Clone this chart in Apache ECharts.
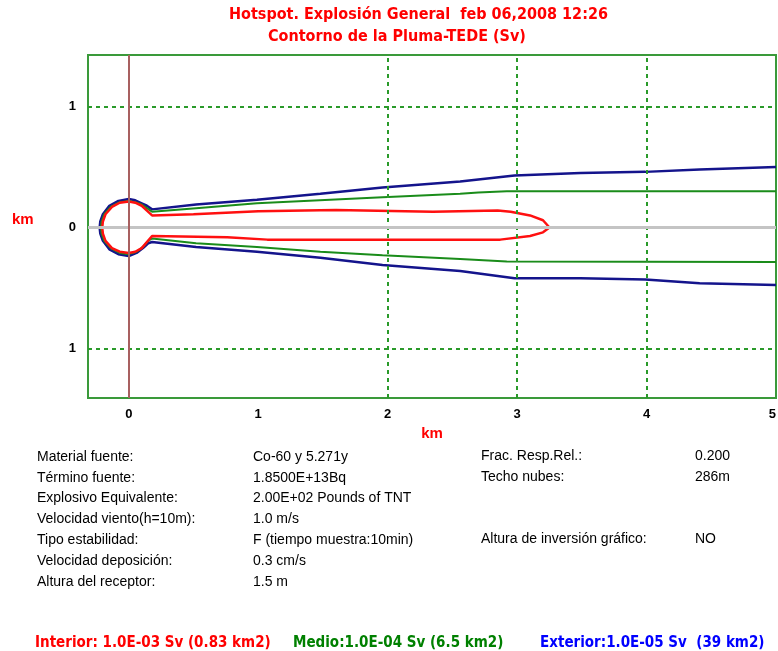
<!DOCTYPE html>
<html>
<head>
<meta charset="utf-8">
<script src="https://cdn.jsdelivr.net/npm/echarts@6/dist/echarts.min.js"></script>
<style>
  html, body { margin: 0; padding: 0; background: #fff; }
  #chart { width: 778px; height: 651px; }
</style>
</head>
<body>
<div id="chart"></div>
<script>
// contornos (km)
const interiorContour = [
    [3.25, 0.0], [3.2, 0.06], [3.1, 0.1], [2.95, 0.13], [2.85, 0.14], [2.35, 0.13], [1.6, 0.145],
    [1.0, 0.135], [0.5, 0.11], [0.18, 0.1], [0.14, 0.14], [0.1, 0.18], [0.05, 0.205],
    [0.0, 0.215], [-0.07, 0.205], [-0.13, 0.17], [-0.18, 0.11], [-0.2, 0.05], [-0.205, 0.0],
    [-0.2, -0.05], [-0.18, -0.11], [-0.13, -0.17], [-0.07, -0.2], [0.0, -0.21], [0.05, -0.2],
    [0.1, -0.17], [0.14, -0.12], [0.18, -0.07], [0.76, -0.08], [1.07, -0.1], [2.0, -0.1],
    [2.87, -0.1], [3.1, -0.07], [3.2, -0.04], [3.25, 0.0]
];
const medioContour = [
    [5.0, 0.3], [2.92, 0.3], [2.7, 0.29], [2.56, 0.28], [1.96, 0.25], [0.99, 0.2], [0.52, 0.16],
    [0.18, 0.13], [0.14, 0.16], [0.1, 0.19], [0.05, 0.21], [0.0, 0.22], [-0.07, 0.21],
    [-0.14, 0.17], [-0.19, 0.11], [-0.21, 0.05], [-0.215, 0.0], [-0.21, -0.05], [-0.19, -0.11],
    [-0.14, -0.17], [-0.07, -0.21], [0.0, -0.22], [0.06, -0.2], [0.11, -0.16], [0.15, -0.11],
    [0.18, -0.09], [0.52, -0.13], [0.99, -0.16], [1.48, -0.2], [1.96, -0.23], [2.56, -0.26],
    [2.92, -0.28], [5.0, -0.285]
];
const exteriorContour = [
    [5.0, 0.5], [4.41, 0.48], [3.99, 0.46], [3.49, 0.45], [2.98, 0.43], [2.56, 0.38],
    [1.96, 0.33], [1.48, 0.28], [0.99, 0.23], [0.52, 0.19], [0.18, 0.15], [0.14, 0.18],
    [0.1, 0.2], [0.05, 0.225], [0.0, 0.235], [-0.08, 0.22], [-0.15, 0.18], [-0.2, 0.11],
    [-0.22, 0.05], [-0.225, 0.0], [-0.22, -0.05], [-0.2, -0.11], [-0.15, -0.18], [-0.08, -0.22],
    [0.0, -0.235], [0.06, -0.21], [0.11, -0.17], [0.15, -0.13], [0.18, -0.12], [0.52, -0.16],
    [0.99, -0.2], [1.48, -0.25], [1.96, -0.31], [2.56, -0.36], [2.98, -0.42], [3.49, -0.42],
    [3.99, -0.43], [4.41, -0.46], [5.0, -0.475]
];

const xTickValues = [0, 1, 2, 3, 4, 5];
const yTickValues = [-1, 0, 1];
const gridLinesX = [2, 3, 4];
const gridLinesY = [1, -1];

const infoLabels = ['Material fuente:', 'Término fuente:', 'Explosivo Equivalente:',
    'Velocidad viento(h=10m):', 'Tipo estabilidad:', 'Velocidad deposición:', 'Altura del receptor:'];
const infoValues = ['Co-60 y 5.271y', '1.8500E+13Bq', '2.00E+02 Pounds of TNT', '1.0 m/s',
    'F (tiempo muestra:10min)', '0.3 cm/s', '1.5 m'];
const infoRightLabels = ['Frac. Resp.Rel.:', 'Techo nubes:', '', '', 'Altura de inversión gráfico:'];
const infoRightValues = ['0.200', '286m', '', '', 'NO'];

const narrow = "'Liberation Sans Narrow', 'DejaVu Sans Condensed', sans-serif";
const plain = "'Liberation Sans', Arial, sans-serif";

var chart = echarts.init(document.getElementById('chart'));

// textos del bloque de informacion
var graphics = [];
infoLabels.forEach((t, i) => {
    graphics.push({ type: 'text', left: 37, top: 450 + i * 20.8,
        style: { text: t, font: '14px ' + plain, fill: '#000' } });
    graphics.push({ type: 'text', left: 253, top: 450 + i * 20.8,
        style: { text: infoValues[i], font: '14px ' + plain, fill: '#000' } });
});
infoRightLabels.forEach((t, i) => {
    if (!t) return;
    graphics.push({ type: 'text', left: 481, top: 449 + i * 20.8,
        style: { text: t, font: '14px ' + plain, fill: '#000' } });
    graphics.push({ type: 'text', left: 695, top: 449 + i * 20.8,
        style: { text: infoRightValues[i], font: '14px ' + plain, fill: '#000' } });
});
// eje y: km
graphics.push({ type: 'text', left: 12, top: 212,
    style: { text: 'km', font: 'bold 15px ' + plain, fill: '#ff0000' } });
// leyenda inferior
graphics.push({ type: 'text', left: 35, top: 636,
    style: { text: 'Interior: 1.0E-03 Sv (0.83 km2)', font: 'bold 15px ' + narrow, fill: '#ff0000' } });
graphics.push({ type: 'text', left: 293, top: 636,
    style: { text: 'Medio:1.0E-04 Sv (6.5 km2)', font: 'bold 15px ' + narrow, fill: '#008000' } });
graphics.push({ type: 'text', left: 540, top: 636,
    style: { text: 'Exterior:1.0E-05 Sv  (39 km2)', font: 'bold 15px ' + narrow, fill: '#0000ff' } });

var option = {
    animation: false,
    backgroundColor: '#fff',
    title: [
        { text: 'Hotspot. Explosión General  feb 06,2008 12:26', left: 229, top: 7, padding: 0,
          textStyle: { color: '#ff0000', fontFamily: narrow, fontWeight: 'bold', fontSize: 16 } },
        { text: 'Contorno de la Pluma-TEDE (Sv)', left: 268, top: 29, padding: 0,
          textStyle: { color: '#ff0000', fontFamily: narrow, fontWeight: 'bold', fontSize: 16 } }
    ],
    grid: {
        left: 88, top: 55, right: 2, bottom: 253, outerBoundsMode: 'none', containLabel: false,
        show: true, borderColor: '#3a9a3a', borderWidth: 2, backgroundColor: 'transparent'
    },
    xAxis: {
        type: 'value', min: -0.315, max: 5,
        axisLine: { show: false }, axisTick: { show: false }, splitLine: { show: false },
        axisLabel: {
            customValues: xTickValues, margin: 10, color: '#000', alignMaxLabel: 'right',
            fontWeight: 'bold', fontSize: 13, fontFamily: plain
        },
        name: 'km', nameLocation: 'middle', nameGap: 22,
        nameTextStyle: { color: '#ff0000', fontWeight: 'bold', fontSize: 15, fontFamily: plain }
    },
    yAxis: {
        type: 'value', min: -1.409, max: 1.426,
        axisLine: { show: false }, axisTick: { show: false }, splitLine: { show: false },
        axisLabel: {
            customValues: yTickValues, margin: 12, color: '#000',
            fontWeight: 'bold', fontSize: 13, fontFamily: plain,
            formatter: v => String(Math.abs(v))
        }
    },
    series: [
        {
            name: 'rejilla', type: 'line', data: [], z: 1,
            markLine: {
                silent: true, symbol: ['none', 'none'], label: { show: false },
                data: [
                    ...gridLinesX.map(v => ({ xAxis: v, lineStyle: { color: '#2a9a2a', type: [4, 4], width: 2 } })),
                    ...gridLinesY.map(v => ({ yAxis: v, lineStyle: { color: '#2a9a2a', type: [4, 4], width: 2 } })),
                    { yAxis: 0, lineStyle: { color: '#c4c4c4', type: 'solid', width: 3 } },
                    { xAxis: 0, lineStyle: { color: '#a86060', type: 'solid', width: 2 } }
                ]
            }
        },
        {
            name: 'Exterior', type: 'line', data: exteriorContour, showSymbol: false, z: 2,
            lineStyle: { color: '#14148c', width: 2.5 }
        },
        {
            name: 'Medio', type: 'line', data: medioContour, showSymbol: false, z: 3,
            lineStyle: { color: '#1a8c1a', width: 2 }
        },
        {
            name: 'Interior', type: 'line', data: interiorContour, showSymbol: false, z: 4,
            lineStyle: { color: '#ff1010', width: 2.5 }
        }
    ],
    graphic: graphics
};
chart.setOption(option);
</script>
</body>
</html>
